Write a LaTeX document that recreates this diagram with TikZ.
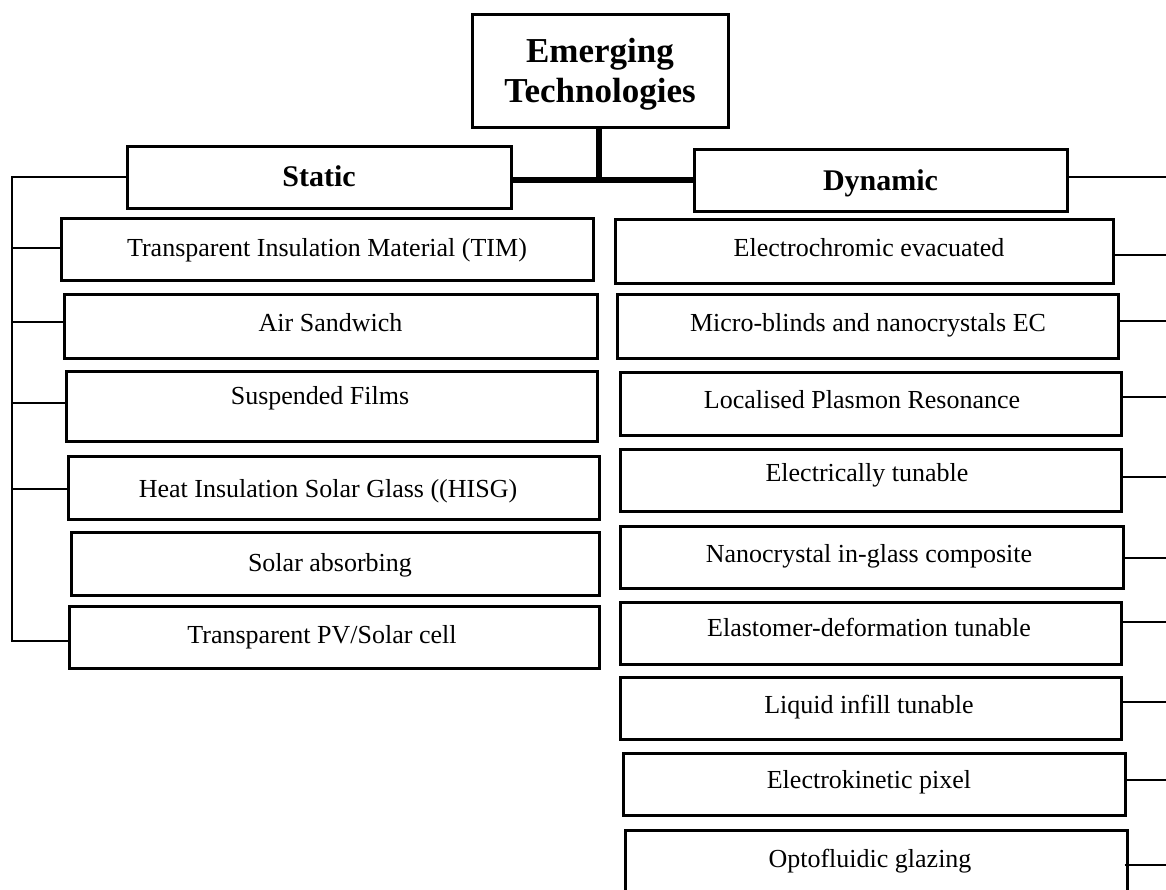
\documentclass[tikz,border=0pt]{standalone}
\usepackage{fontspec}
\setmainfont{Liberation Serif}
\begin{document}
\begin{tikzpicture}[x=1pt,y=-1pt,
  box/.style={draw, line width=3pt, inner sep=0pt},
  conn/.style={line width=2.5pt},
  trunk/.style={line width=6pt},
  txt/.style={inner sep=0pt, anchor=base, font=\fontsize{26}{30}\selectfont},
  head/.style={inner sep=0pt, anchor=base, font=\fontsize{35}{40}\selectfont\bfseries},
  sub/.style={inner sep=0pt, anchor=base, font=\fontsize{30}{34}\selectfont\bfseries}]
\clip (0,0) rectangle (1166,889);
\fill[white] (0,0) rectangle (1166,889);
% top
\node[box, minimum width=256pt, minimum height=113pt] (top) at (600,70.5) {};
\node[head] (topa) at (600,62) {Emerging};
\node[head] (topb) at (600,102) {Technologies};
% static / dynamic
\node[box, minimum width=384pt, minimum height=62pt] (static) at (319,177) {};
\node[sub] (statict) at (319,186) {Static};
\node[box, minimum width=373pt, minimum height=62pt] (dynamic) at (880.5,180) {};
\node[sub] (dynamict) at (880.5,190) {Dynamic};
% static items
\node[box, minimum width=532pt, minimum height=62pt] (s1) at (327,249) {};
\node[txt] (s1t) at (327,256) {Transparent Insulation Material (TIM)};
\node[box, minimum width=533pt, minimum height=64pt] (s2) at (330.5,326) {};
\node[txt] (s2t) at (330.5,331) {Air Sandwich};
\node[box, minimum width=531pt, minimum height=70pt] (s3) at (331.5,406) {};
\node[txt] (s3t) at (320,404) {Suspended Films};
\node[box, minimum width=531pt, minimum height=63pt] (s4) at (333.5,487.5) {};
\node[txt] (s4t) at (328,497) {Heat Insulation Solar Glass ((HISG)};
\node[box, minimum width=528pt, minimum height=63pt] (s5) at (335,563.5) {};
\node[txt] (s5t) at (330,571) {Solar absorbing};
\node[box, minimum width=530pt, minimum height=62pt] (s6) at (334,637) {};
\node[txt] (s6t) at (322,643) {Transparent PV/Solar cell};
% dynamic items
\node[box, minimum width=498pt, minimum height=64pt] (d1) at (864,251) {};
\node[txt] (d1t) at (869,256) {Electrochromic evacuated};
\node[box, minimum width=501pt, minimum height=64pt] (d2) at (867.5,326) {};
\node[txt] (d2t) at (868,331) {Micro-blinds and nanocrystals EC};
\node[box, minimum width=501pt, minimum height=63pt] (d3) at (870.5,403.5) {};
\node[txt] (d3t) at (862,408) {Localised Plasmon Resonance};
\node[box, minimum width=501pt, minimum height=62pt] (d4) at (870.5,480) {};
\node[txt] (d4t) at (867,481) {Electrically tunable};
\node[box, minimum width=503pt, minimum height=62pt] (d5) at (871.5,557) {};
\node[txt] (d5t) at (869,562) {Nanocrystal in-glass composite};
\node[box, minimum width=501pt, minimum height=62pt] (d6) at (870.5,633) {};
\node[txt] (d6t) at (869,636) {Elastomer-deformation tunable};
\node[box, minimum width=501pt, minimum height=62pt] (d7) at (870.5,708) {};
\node[txt] (d7t) at (869,713) {Liquid infill tunable};
\node[box, minimum width=502pt, minimum height=62pt] (d8) at (874,784) {};
\node[txt] (d8t) at (869,788) {Electrokinetic pixel};
\node[box, minimum width=502pt, minimum height=70pt] (d9) at (876,865) {};
\node[txt] (d9t) at (870,867) {Optofluidic glazing};
% trunk
\coordinate (j) at (599,180);
\draw[trunk] (top.south -| j) -- (j);
\draw[trunk] (j -| static.east) -- (j -| dynamic.west);
% left bus
\coordinate (bt) at (12,177);
\coordinate (bb) at (12,641);
\draw[conn] (static.west) -- (bt) -- (bb) -- (bb -| s6.west);
\coordinate (b1) at (12,248);
\coordinate (b2) at (12,322);
\coordinate (b3) at (12,403);
\coordinate (b4) at (12,489);
\draw[conn] (b1) -- (b1 -| s1.west);
\draw[conn] (b2) -- (b2 -| s2.west);
\draw[conn] (b3) -- (b3 -| s3.west);
\draw[conn] (b4) -- (b4 -| s4.west);
% right connectors
\coordinate (r0) at (1166,177);
\coordinate (r1) at (1166,255);
\coordinate (r2) at (1166,321);
\coordinate (r3) at (1166,397);
\coordinate (r4) at (1166,477);
\coordinate (r5) at (1166,558);
\coordinate (r6) at (1166,622);
\coordinate (r7) at (1166,702);
\coordinate (r8) at (1166,780);
\coordinate (r9) at (1166,865);
\draw[conn] (r0 -| dynamic.east) -- (r0);
\draw[conn] (r1 -| d1.east) -- (r1);
\draw[conn] (r2 -| d2.east) -- (r2);
\draw[conn] (r3 -| d3.east) -- (r3);
\draw[conn] (r4 -| d4.east) -- (r4);
\draw[conn] (r5 -| d5.east) -- (r5);
\draw[conn] (r6 -| d6.east) -- (r6);
\draw[conn] (r7 -| d7.east) -- (r7);
\draw[conn] (r8 -| d8.east) -- (r8);
\draw[conn] ([xshift=-4pt]r9 -| d9.east) -- (r9);
\end{tikzpicture}
\end{document}
